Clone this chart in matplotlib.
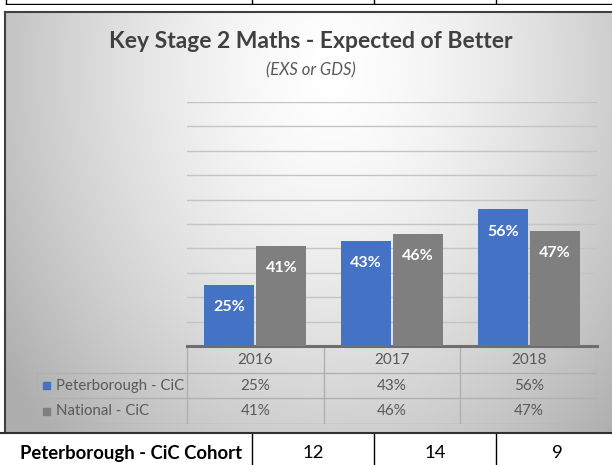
import numpy as np
import matplotlib
matplotlib.use("Agg")
import matplotlib.pyplot as plt
from matplotlib.lines import Line2D
from matplotlib.patches import Rectangle

# datos
years = ["2016", "2017", "2018"]
peterborough = [25, 43, 56]
national = [41, 46, 47]
series_names = ["Peterborough - CiC", "National - CiC"]
cohort_label = "Peterborough - CiC Cohort"
cohort = [12, 14, 9]

blue = "#4472C4"
grey = "#7F7F7F"
txt = "#595959"
W, H = 612, 465

plt.rcParams["font.family"] = ["Lato", "DejaVu Sans"]

fig = plt.figure(figsize=(W / 100, H / 100), dpi=100)
fig.patch.set_facecolor("white")


def rect(left, top, right, bottom):
    # pixeles -> coordenadas de figura
    return [left / W, 1 - bottom / H, (right - left) / W, (bottom - top) / H]


# fondo con degradado del recuadro del grafico
bx0, by0, bx1, by1 = 5, 12.5, 612, 433
bg = fig.add_axes(rect(bx0, by0, bx1, by1), zorder=0)
gx, gy = np.meshgrid(np.arange(bx0, bx1), np.arange(by0, by1))
d = np.sqrt(((gx - 330) / 330.0) ** 2 + ((gy - 70) / 430.0) ** 2)
val = 1.0 - 0.24 * np.clip(d, 0, 1.2) ** 1.5
bg.imshow(np.dstack([val, val, val]), aspect="auto", extent=(0, 1, 0, 1))
bg.axis("off")

# borde del recuadro
fig.add_artist(Line2D([bx0 / W, bx0 / W], [1 - by0 / H, 1 - by1 / H], color="#404040", lw=1.5))
fig.add_artist(Line2D([bx0 / W, 1], [1 - by0 / H, 1 - by0 / H], color="#404040", lw=1.5))
fig.add_artist(Line2D([0, 1], [1 - by1 / H, 1 - by1 / H], color="#303030", lw=1.5))

# titulo
fig.text(311 / W, 1 - 42 / H, "Key Stage 2 Maths - Expected of Better", ha="center", va="center",
         fontsize=16.5, fontweight="bold", color="#404040")
fig.text(311 / W, 1 - 70 / H, "(EXS or GDS)", ha="center", va="center",
         fontsize=12, style="italic", color=txt)

# grafico de barras
ax = fig.add_axes(rect(187, 102, 597, 346), zorder=2)
ax.patch.set_alpha(0)
x = np.arange(len(years))
w = 0.366
b1 = ax.bar(x - 0.19, peterborough, w, color=blue, zorder=3)
b2 = ax.bar(x + 0.19, national, w, color=grey, zorder=3)
ax.set_xlim(-0.5, 2.5)
ax.set_ylim(0, 100)
ax.set_yticks(np.arange(10, 101, 10))
ax.yaxis.grid(True, color="#c4c4c4", lw=1)
ax.set_axisbelow(True)
ax.tick_params(left=False, bottom=False, labelleft=False, labelbottom=False)
for s in ["top", "right", "left"]:
    ax.spines[s].set_visible(False)
ax.spines["bottom"].set_color("#6e6e6e")
ax.spines["bottom"].set_linewidth(2.2)
for bars in (b1, b2):
    ax.bar_label(bars, labels=[f"{int(v)}%" for v in bars.datavalues], padding=-21,
                 color="white", fontsize=11.5, fontweight="bold")

# tabla de datos (misma escala x que el grafico)
tab = fig.add_axes(rect(36, 346, 597, 424), zorder=1)
tab.patch.set_alpha(0)
xl = -0.5 - (187 - 36) / (410 / 3)
tab.set_xlim(xl, 2.5)
tab.set_ylim(78, 0)
tab.axis("off")
lc = "#b0b0b0"
for xv in [-0.5, 0.5, 1.5, 2.5]:
    tab.plot([xv, xv], [0, 78], color=lc, lw=1)
tab.plot([xl + 0.005, xl + 0.005], [27, 78], color=lc, lw=1)
for yv in [27, 52, 77.5]:
    tab.plot([xl, 2.5], [yv, yv], color=lc, lw=1)
for i, yr in enumerate(years):
    tab.text(i, 13.5, yr, ha="center", va="center", fontsize=11, color=txt)
    tab.text(i, 39.5, f"{peterborough[i]}%", ha="center", va="center", fontsize=11, color=txt)
    tab.text(i, 65, f"{national[i]}%", ha="center", va="center", fontsize=11, color=txt)
sq = 7 / (410 / 3)
for yv, name, col in [(39.5, series_names[0], blue), (65, series_names[1], grey)]:
    tab.add_patch(Rectangle((xl + 7 / (410 / 3), yv - 3.5), sq, 7, color=col))
    tab.text(xl + 20 / (410 / 3), yv, name, ha="left", va="center", fontsize=10.8, color=txt)

# fila de la cohorte (tabla de Word debajo del grafico)
coh = fig.add_axes(rect(0, 433, 612, 465), zorder=1)
coh.set_xlim(-313 / 122, (612 - 313) / 122)
coh.set_ylim(32, 0)
coh.axis("off")
for xv in [-0.5, 0.5, 1.5]:
    coh.plot([xv, xv], [0, 32], color="black", lw=1)
coh.text(-2.402, 20, cohort_label, ha="left", va="center", fontsize=13.3, fontweight="bold", color="black")
for i, v in enumerate(cohort):
    coh.text(i, 20, str(v), ha="center", va="center", fontsize=13.3, color="black")

# fila superior cortada
top = fig.add_axes(rect(0, 0, 612, 5), zorder=1)
top.set_xlim(-313 / 122, (612 - 313) / 122)
top.set_ylim(5, 0)
top.axis("off")
for xv in [(6 - 313) / 122, -0.5, 0.5, 1.5]:
    top.plot([xv, xv], [0, 4], color="black", lw=1)
top.plot([(6 - 313) / 122, (612 - 313) / 122], [4, 4], color="black", lw=1)

fig.savefig("out.png", dpi=100)
